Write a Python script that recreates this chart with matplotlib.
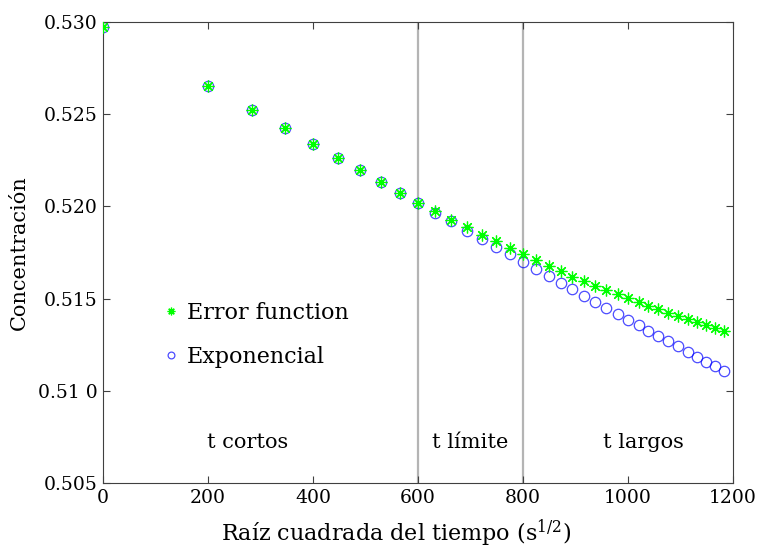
import matplotlib
matplotlib.use("Agg")
import matplotlib.pyplot as plt

# raíz cuadrada del tiempo (s^1/2)
x_raiz = [0, 200, 283, 346, 400, 447, 490, 529, 566, 600,
          632, 663, 693, 721, 748, 775, 800, 825, 849, 872,
          894, 917, 938, 959, 980, 1000, 1020, 1039, 1058, 1077,
          1095, 1114, 1131, 1149, 1166, 1183]

# ajuste con función error
c_erf = [0.52975, 0.52653, 0.52523, 0.52424, 0.52337, 0.52261, 0.52196, 0.52131, 0.52074, 0.52021,
         0.51975, 0.51926, 0.51887, 0.51847, 0.51811, 0.51774, 0.51742, 0.51709, 0.51678, 0.51650,
         0.51619, 0.51595, 0.51570, 0.51547, 0.51523, 0.51502, 0.51482, 0.51460, 0.51442, 0.51424,
         0.51406, 0.51389, 0.51373, 0.51355, 0.51341, 0.51324]

# ajuste exponencial
c_exp = [0.52975, 0.52653, 0.52523, 0.52424, 0.52337, 0.52261, 0.52196, 0.52131, 0.52074, 0.52021,
         0.51966, 0.51919, 0.51868, 0.51825, 0.51781, 0.51740, 0.51700, 0.51661, 0.51623, 0.51585,
         0.51550, 0.51514, 0.51482, 0.51449, 0.51416, 0.51384, 0.51355, 0.51324, 0.51296, 0.51268,
         0.51241, 0.51210, 0.51185, 0.51158, 0.51133, 0.51107]

limites = [600, 800]
regiones = ["t cortos", "t límite", "t largos"]
x_regiones = [275, 700, 1030]

y_ticks = [0.505, 0.510, 0.515, 0.520, 0.525, 0.530]
y_etiquetas = ["0.505", "0.51 0", "0.515", "0.520", "0.525", "0.530"]
x_ticks = [0, 200, 400, 600, 800, 1000, 1200]

plt.rcParams['font.family'] = ['DejaVu Serif']
plt.rcParams['mathtext.fontset'] = 'dejavuserif'

fig = plt.figure(figsize=(7.59, 5.48), dpi=100)
ax = fig.add_axes([103/759, 1 - 483/548, 630/759, 461/548])

for xl in limites:
    ax.axvline(xl, color='#b4b4b4', lw=1.6, zorder=1)

# asterisco de 8 puntas, como el '*' de matlab
ax.plot(x_raiz, c_erf, marker=(8, 2, 0), ls='none', color='#00ff00', ms=8.5, mew=0.9,
        label='Error function', zorder=3)
ax.plot(x_raiz, c_exp, 'o', mfc='none', mec='#0000ff', ms=7.5, mew=0.9, alpha=0.7,
        label='Exponencial', zorder=2)

for txt, xr in zip(regiones, x_regiones):
    ax.text(xr, 0.50717, txt, ha='center', va='center', fontsize=15)

ax.set_xlim(0, 1200)
ax.set_ylim(0.505, 0.530)
ax.set_xticks(x_ticks)
ax.set_yticks(y_ticks)
ax.set_yticklabels(y_etiquetas)
ax.tick_params(direction='in', top=True, right=True, length=5, labelsize=13.5,
               color='#404040', pad=4)
for s in ax.spines.values():
    s.set_color('#404040')

ax.set_xlabel(r'Raíz cuadrada del tiempo (s$^{1/2}$)', fontsize=16)
ax.xaxis.set_label_coords(0.465, -0.074)
ax.set_ylabel('Concentración', fontsize=15, labelpad=6)

leg = ax.legend(loc='upper left', bbox_to_anchor=(0.066, 0.436), frameon=False,
                fontsize=16, markerscale=0.65, handlelength=0.6, handletextpad=0.4,
                labelspacing=1.0)

fig.savefig('out.png', dpi=100)
